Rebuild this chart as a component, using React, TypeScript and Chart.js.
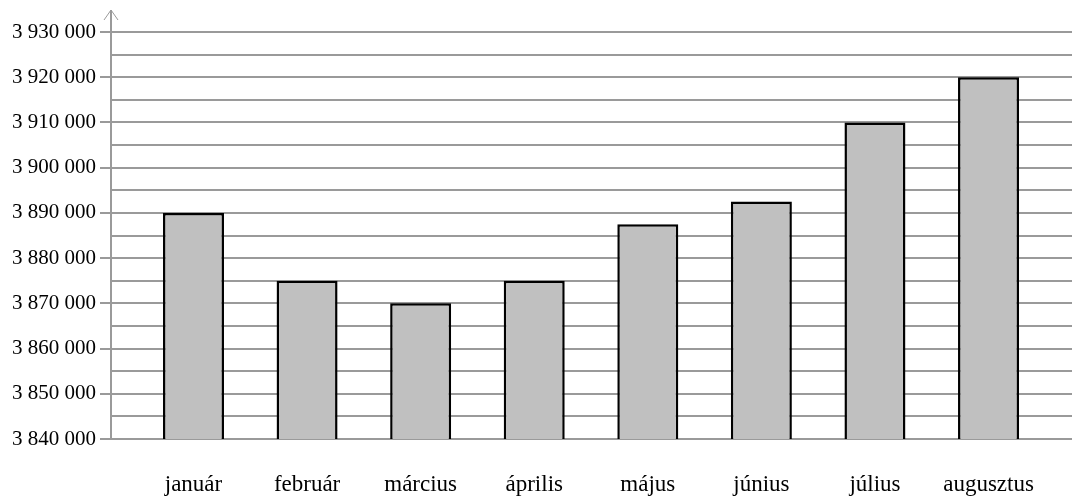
import React, { useEffect, useRef } from "react";
import { Chart, registerables } from "chart.js";

Chart.register(...registerables);

const months: string[] = [
  "január",
  "február",
  "március",
  "április",
  "május",
  "június",
  "július",
  "augusztus",
];

const values: number[] = [
  3890000, 3875000, 3870000, 3875000, 3887500, 3892500, 3910000, 3920000,
];

const yMin = 3840000;
const yMax = 3930000;
const yStep = 5000;
const yLabelStep = 10000;

const GRID = "#9a9a9a";

function fmt(v: number): string {
  return String(Math.round(v)).replace(/\B(?=(\d{3})+(?!\d))/g, " ");
}

const axisArrow = {
  id: "axisArrow",
  afterDraw(chart: any) {
    const { ctx, chartArea } = chart;
    const x = Math.round(chartArea.left);
    ctx.save();
    ctx.strokeStyle = GRID;
    ctx.lineWidth = 2;
    ctx.beginPath();
    ctx.moveTo(x, chartArea.bottom + 1);
    ctx.lineTo(x, 10);
    ctx.stroke();
    ctx.lineWidth = 1;
    ctx.beginPath();
    ctx.moveTo(x - 7, 20);
    ctx.lineTo(x, 10);
    ctx.lineTo(x + 7, 20);
    ctx.stroke();
    ctx.restore();
  },
};

export default function App() {
  const ref = useRef<HTMLCanvasElement | null>(null);

  useEffect(() => {
    if (!ref.current) return;
    const chart = new Chart(ref.current, {
      type: "bar",
      data: {
        datasets: [
          {
            data: values.map((v, i) => ({ x: i, y: v })),
            backgroundColor: "#c0c0c0",
            borderColor: "#000000",
            borderWidth: 2.5,
            borderSkipped: false,
            barPercentage: 0.537,
            categoryPercentage: 1,
          } as any,
        ],
      },
      options: {
        animation: false,
        responsive: false,
        maintainAspectRatio: false,
        devicePixelRatio: 1,
        layout: { padding: { top: 32, left: 0, right: 0, bottom: 0 } },
        plugins: {
          legend: { display: false },
          tooltip: { enabled: false },
          title: { display: false },
        },
        scales: {
          x: {
            type: "linear",
            offset: false,
            min: -0.7264,
            max: 7.735,
            grid: { display: false, drawTicks: false },
            border: { display: false },
            afterBuildTicks: (s: any) => {
              s.ticks = months.map((_, i) => ({ value: i }));
            },
            afterFit: (s: any) => {
              s.height = 57;
            },
            ticks: {
              autoSkip: false,
              maxRotation: 0,
              padding: 32,
              color: "#000000",
              font: { family: "'Liberation Serif', 'Times New Roman', serif", size: 23 },
              callback: (v: any) => months[Math.round(Number(v))] ?? "",
            },
          },
          y: {
            type: "linear",
            min: yMin,
            max: yMax,
            grid: {
              color: GRID,
              lineWidth: 2,
              tickLength: 11,
              tickColor: (c: any) =>
                c.tick && c.tick.value % yLabelStep === 0 ? GRID : "rgba(0,0,0,0)",
            },
            border: { display: false },
            afterFit: (s: any) => {
              s.width = 111;
            },
            ticks: {
              stepSize: yStep,
              autoSkip: false,
              padding: 4,
              color: "#000000",
              font: { family: "'Liberation Serif', 'Times New Roman', serif", size: 21 },
              callback: (v: any) => (Number(v) % yLabelStep === 0 ? fmt(Number(v)) : ""),
            },
          },
        },
      },
      plugins: [axisArrow],
    });
    return () => chart.destroy();
  }, []);

  return (
    <div style={{ position: "fixed", left: 0, top: 0, width: 1072, height: 496, background: "#fff" }}>
      <canvas ref={ref} width={1072} height={496} style={{ width: 1072, height: 496, display: "block" }} />
    </div>
  );
}
